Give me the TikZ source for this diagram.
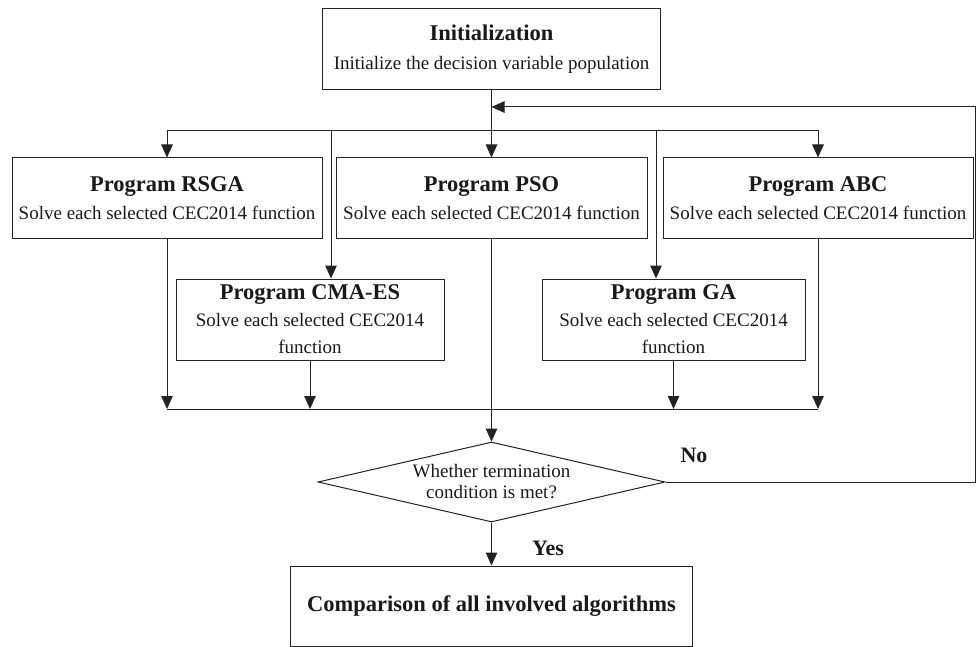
\documentclass[tikz,border=0pt]{standalone}
\usepackage{fontspec}
\setmainfont{Liberation Serif}
\usetikzlibrary{arrows.meta,shapes.geometric}
\definecolor{lc}{RGB}{35,35,35}
\newcommand\boxtitle[1]{{\fontsize{22.5}{27}\selectfont\bfseries #1}}
\tikzset{
  box/.style={draw=lc, line width=1pt, rectangle, inner sep=0pt, align=center,
              font=\fontsize{19}{27}\selectfont, text=black!90},
  decision/.style={draw=lc, line width=1pt, diamond, inner sep=0pt, align=center,
              font=\fontsize{19}{21}\selectfont, text=black!90},
  arr/.style={draw=lc, line width=1pt, -{Triangle[length=13pt,width=11.5pt]}},
  ln/.style={draw=lc, line width=1pt},
  lbl/.style={font=\fontsize{22}{26}\selectfont\bfseries, text=black!90, inner sep=0pt}
}
\begin{document}
\begin{tikzpicture}[x=1pt,y=-1pt]
\useasboundingbox (0,0) rectangle (976,647);

\node[box, minimum width=338, minimum height=81] (init) at (491.5,49.5)
  {\boxtitle{Initialization}\\[2pt]Initialize the decision variable population};

\node[box, minimum width=310, minimum height=80] (rsga) at (167,198)
  {\boxtitle{Program RSGA}\\[1pt]Solve each selected CEC2014 function};
\node[box, minimum width=311, minimum height=80] (pso) at (491.5,198)
  {\boxtitle{Program PSO}\\[1pt]Solve each selected CEC2014 function};
\node[box, minimum width=310, minimum height=80] (abc) at (818,198)
  {\boxtitle{Program ABC}\\[1pt]Solve each selected CEC2014 function};

\node[box, minimum width=268, minimum height=81] (cma) at (310,319.5)
  {\boxtitle{Program CMA-ES}\\Solve each selected CEC2014\\function};
\node[box, minimum width=263, minimum height=81] (ga) at (673.5,319.5)
  {\boxtitle{Program GA}\\Solve each selected CEC2014\\function};

\node[decision, minimum width=347, minimum height=80, aspect=4.34] (dia) at (491.5,482)
  {Whether termination\\condition is met?};

\node[box, minimum width=402, minimum height=80] (cmp) at (491.5,606)
  {\boxtitle{Comparison of all involved algorithms}};

\node[lbl] (no) at (694,455) {No};
\node[lbl] (yes) at (548,548) {Yes};

% distribution
\coordinate (d) at (491.5,131);
\coordinate (cmain) at (331,131);
\coordinate (gain) at (656,131);
\draw[arr] (init.south) -- (pso.north);
\draw[arr] (d) -| (rsga.north);
\draw[arr] (d) -| (abc.north);
\draw[arr] (cmain) -- (cmain |- cma.north);
\draw[arr] (gain) -- (gain |- ga.north);

% collection
\coordinate (bus) at (491.5,409);
\draw[arr] (rsga.south) -- (rsga.south |- bus);
\draw[arr] (cma.south) -- (cma.south |- bus);
\draw[arr] (ga.south) -- (ga.south |- bus);
\draw[arr] (abc.south) -- (abc.south |- bus);
\draw[ln] (rsga.south |- bus) -- (abc.south |- bus);
\draw[arr] (pso.south) -- (dia.north);

% feedback
\coordinate (fb1) at (975,482);
\coordinate (fb2) at (975,107);
\coordinate (fb3) at (491.5,107);
\draw[arr] (dia.east) -- (fb1) -- (fb2) -- (fb3);

\draw[arr] (dia.south) -- (cmp.north);
\end{tikzpicture}
\end{document}
